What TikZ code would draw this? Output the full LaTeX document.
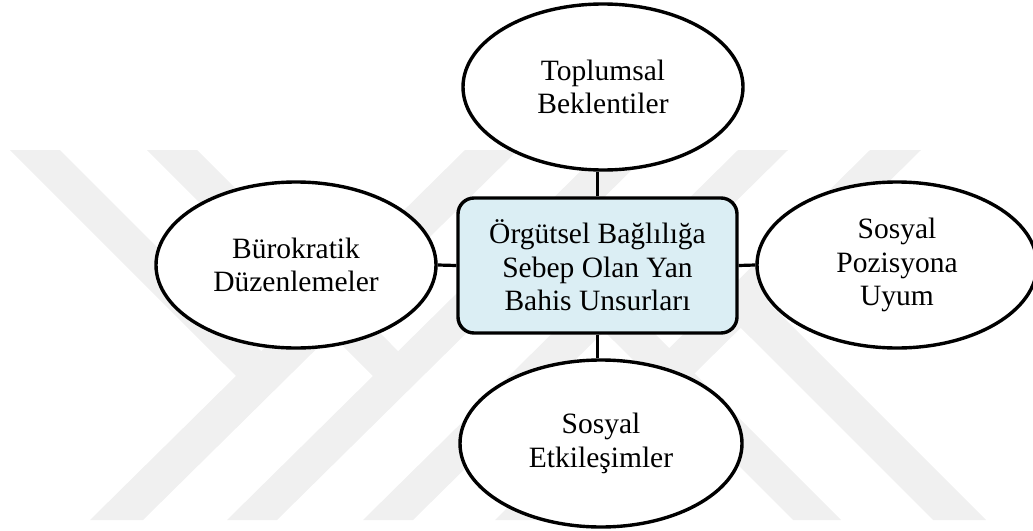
\documentclass[tikz,border=0pt]{standalone}
\usepackage{fontspec}
\setmainfont{Liberation Serif}
\usetikzlibrary{shapes.geometric}
\definecolor{wmgray}{RGB}{240,240,240}
\definecolor{boxblue}{RGB}{219,238,244}
\begin{document}
\begin{tikzpicture}[x=1pt,y=-1pt,
  every node/.style={font=\fontsize{29.5pt}{33.5pt}\selectfont, align=center, inner sep=0pt},
  bubble/.style={ellipse, draw=black, line width=3.4pt, fill=white,
                 minimum width=280pt, minimum height=166pt},
  hub/.style={rectangle, rounded corners=16pt, draw=black, line width=3.4pt,
              fill=boxblue, minimum width=279pt, minimum height=135pt},
  link/.style={draw=black, line width=3.2pt},
  band/.style={fill=wmgray, draw=none}]
\useasboundingbox (0,0) rectangle (1033,530);

% background mark: long diagonal strokes
\fill[band] (90,520) -- (143,520) -- (518,150) -- (465,150) -- cycle;
\fill[band] (227,520) -- (277,520) -- (652,150) -- (602,150) -- cycle;
\fill[band] (363,520) -- (413,520) -- (788,150) -- (738,150) -- cycle;
\fill[band] (495,520) -- (546,520) -- (921,150) -- (870,150) -- cycle;
% short arms joining the strokes
\fill[band] (10,150) -- (60,150)
  -- (intersection of 60,150--430,520 and 116.5,520--491.5,150)
  -- (intersection of 10,150--380,520 and 116.5,520--491.5,150) -- cycle;
\fill[band] (147,150) -- (197,150)
  -- (intersection of 197,150--567,520 and 252,520--627,150)
  -- (intersection of 147,150--517,520 and 252,520--627,150) -- cycle;
\fill[band] (793,520) -- (841,520)
  -- (intersection of 841,520--471,150 and 388,520--763,150)
  -- (intersection of 793,520--423,150 and 388,520--763,150) -- cycle;
\fill[band] (933,520) -- (986,520)
  -- (intersection of 986,520--616,150 and 520.5,520--895.5,150)
  -- (intersection of 933,520--563,150 and 520.5,520--895.5,150) -- cycle;

% nodes
\node[hub] (hub) at (597.5,265.5) {Örgütsel Bağlılığa\\Sebep Olan Yan\\Bahis Unsurları};
\node[bubble] (top) at (603,87) {Toplumsal\\Beklentiler};
\node[bubble] (left) at (296,265) {Bürokratik\\Düzenlemeler};
\node[bubble] (right) at (897,265) {Sosyal\\Pozisyona\\Uyum};
\node[bubble, minimum width=282pt, minimum height=167pt] (bottom) at (601,443.5) {Sosyal\\Etkileşimler};

% connectors
\draw[link] (hub.north) -- (hub.north |- top.south);
\draw[link] (hub.south) -- (hub.south |- bottom.north);
\draw[link] (hub.west) -- (left.east);
\draw[link] (hub.east) -- (right.west);
\end{tikzpicture}
\end{document}
